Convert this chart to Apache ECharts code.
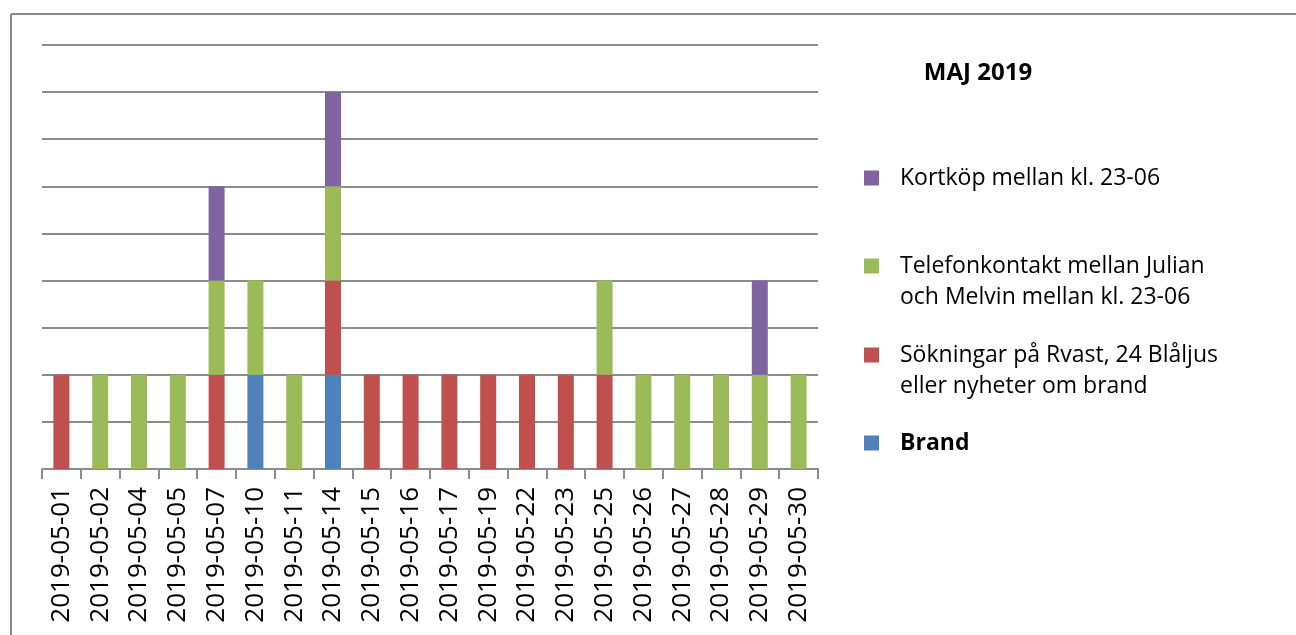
<!DOCTYPE html>
<html>
<head>
<meta charset="utf-8">
<script src="https://cdn.jsdelivr.net/npm/echarts@6/dist/echarts.min.js"></script>
<style>
  html, body { margin: 0; padding: 0; background: #fff; }
  #chart { width: 1296px; height: 635px; }
</style>
</head>
<body>
<div id="chart"></div>
<script>
// Dates with at least one recorded event in May 2019
const categories = [
  '2019-05-01', '2019-05-02', '2019-05-04', '2019-05-05', '2019-05-07',
  '2019-05-10', '2019-05-11', '2019-05-14', '2019-05-15', '2019-05-16',
  '2019-05-17', '2019-05-19', '2019-05-22', '2019-05-23', '2019-05-25',
  '2019-05-26', '2019-05-27', '2019-05-28', '2019-05-29', '2019-05-30'
];

// Event counts per day, one array per event type (stacked bottom to top)
const brand      = [0, 0, 0, 0, 0, 1, 0, 1, 0, 0, 0, 0, 0, 0, 0, 0, 0, 0, 0, 0];
const sokningar  = [1, 0, 0, 0, 1, 0, 0, 1, 1, 1, 1, 1, 1, 1, 1, 0, 0, 0, 0, 0];
const telefon    = [0, 1, 1, 1, 1, 1, 1, 1, 0, 0, 0, 0, 0, 0, 1, 1, 1, 1, 1, 1];
const kortkop    = [0, 0, 0, 0, 1, 0, 0, 1, 0, 0, 0, 0, 0, 0, 0, 0, 0, 0, 1, 0];

const seriesNames = [
  'Brand',
  'Sökningar på Rvast, 24 Blåljus\neller nyheter om brand',
  'Telefonkontakt mellan Julian\noch Melvin mellan kl. 23-06',
  'Kortköp mellan kl. 23-06'
];
const seriesData = [brand, sokningar, telefon, kortkop];
const colors = ['#4F81BD', '#C0504D', '#9BBB59', '#8064A2'];

const titleText = 'MAJ 2019';
const FONT = '"Open Sans", "Noto Sans", sans-serif';

const chart = echarts.init(document.getElementById('chart'), null, { renderer: 'canvas' });

// Legend drawn top-down in reverse stacking order, marker beside the first text line
const legendTops = [443, 355, 266, 178];
const legendGraphics = [];
seriesNames.forEach((name, i) => {
  const cy = legendTops[i];
  legendGraphics.push({
    type: 'rect',
    shape: { x: 864, y: cy - 7.5, width: 15, height: 15 },
    style: { fill: colors[i] }
  });
  legendGraphics.push({
    type: 'text',
    x: 900,
    y: cy - 15.5,
    style: {
      text: name,
      font: (i === 0 ? 'bold ' : '') + '23px ' + FONT,
      fill: '#000',
      lineHeight: 31,
      verticalAlign: 'top'
    }
  });
});

const option = {
  animation: false,
  backgroundColor: '#fff',
  title: {
    text: titleText,
    left: 973,
    top: 56,
    textAlign: 'center',
    textStyle: { fontFamily: FONT, fontWeight: 'bold', fontSize: 24, color: '#000' }
  },
  grid: { left: 42, right: 1296 - 818, top: 45, bottom: 635 - 469, containLabel: false },
  xAxis: {
    type: 'category',
    data: categories,
    boundaryGap: true,
    axisLine: { show: true, lineStyle: { color: '#8c8c8c', width: 2 } },
    axisTick: { show: true, alignWithLabel: false, length: 10, lineStyle: { color: '#8c8c8c', width: 2 } },
    axisLabel: {
      rotate: 90,
      interval: 0,
      margin: 18,
      fontFamily: FONT,
      fontSize: 26,
      color: '#000'
    }
  },
  yAxis: {
    type: 'value',
    min: 0,
    max: 4.5,
    interval: 0.5,
    axisLine: { show: false },
    axisTick: { show: false },
    axisLabel: { show: false },
    splitLine: { show: true, lineStyle: { color: '#8c8c8c', width: 2 } }
  },
  series: seriesNames.map((name, i) => ({
    name: name,
    type: 'bar',
    stack: 'events',
    barWidth: 16,
    data: seriesData[i],
    itemStyle: { color: colors[i] }
  })),
  graphic: [
    // Outer frame: top and left edges
    { type: 'line', shape: { x1: 11, y1: 14, x2: 1296, y2: 14 }, style: { stroke: '#888888', lineWidth: 2 } },
    { type: 'line', shape: { x1: 11, y1: 14, x2: 11, y2: 635 }, style: { stroke: '#888888', lineWidth: 2 } }
  ].concat(legendGraphics)
};

chart.setOption(option);
</script>
</body>
</html>
